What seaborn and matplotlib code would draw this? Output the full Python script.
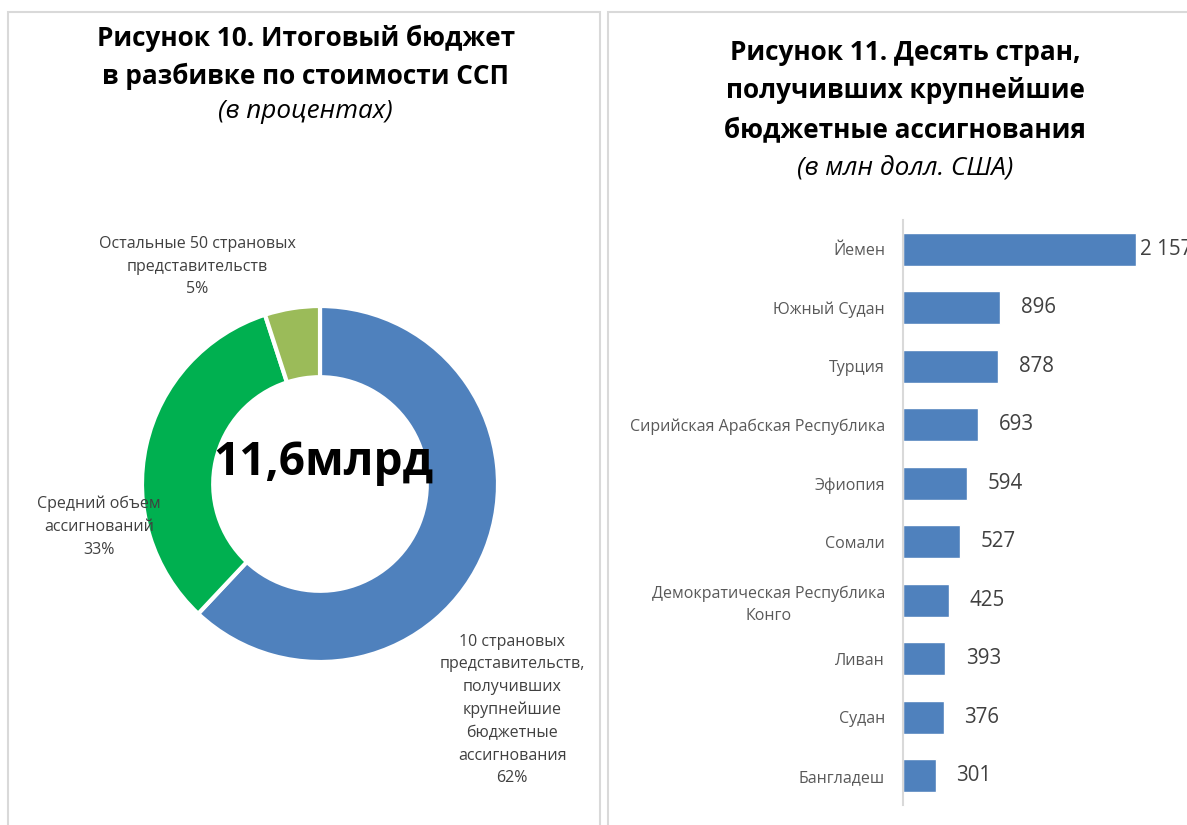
import matplotlib
matplotlib.use("Agg")
import matplotlib.pyplot as plt
import seaborn as sns
from matplotlib.patches import Rectangle

# ---- data ----
donut_labels = [
    "10 страновых\nпредставительств,\nполучивших\nкрупнейшие\nбюджетные\nассигнования",
    "Средний объем\nассигнований",
    "Остальные 50 страновых\nпредставительств",
]
donut_values = [62, 33, 5]
donut_colors = ["#4F81BD", "#00B050", "#9BBB59"]
donut_total = "11,6млрд"

countries = ["Йемен", "Южный Судан", "Турция", "Сирийская Арабская Республика",
             "Эфиопия", "Сомали", "Демократическая Республика\nКонго", "Ливан",
             "Судан", "Бангладеш"]
budgets = [2157, 896, 878, 693, 594, 527, 425, 393, 376, 301]

title_left = ["Рисунок 10. Итоговый бюджет", "в разбивке по стоимости ССП"]
subtitle_left = "(в процентах)"
title_right = ["Рисунок 11. Десять стран,", "получивших крупнейшие",
               "бюджетные ассигнования"]
subtitle_right = "(в млн долл. США)"

sns.set_theme(style="white")
plt.rcParams["font.family"] = ["Open Sans", "DejaVu Sans"]

W, H = 1187, 825
fig = plt.figure(figsize=(W / 100, H / 100), dpi=100)

def fx(px):
    return px / W

def fy(py):
    return 1 - py / H

# panel frames
fig.add_artist(Rectangle((fx(8), fy(860)), fx(600 - 8), (860 - 12) / H,
                         transform=fig.transFigure, fill=False,
                         edgecolor="#d9d9d9", lw=1.5))
fig.add_artist(Rectangle((fx(608), fy(860)), fx(1250 - 608), (860 - 12) / H,
                         transform=fig.transFigure, fill=False,
                         edgecolor="#d9d9d9", lw=1.5))

# titles
TFS = 18.8
for line, y in zip(title_left, [38, 76]):
    fig.text(fx(306), fy(y), line, ha="center", va="center",
             fontsize=TFS, fontweight="bold", color="black")
fig.text(fx(305), fy(112), subtitle_left, ha="center", va="center",
         fontsize=TFS, fontstyle="italic", color="black")
for line, y in zip(title_right, [52, 91, 130]):
    fig.text(fx(905), fy(y), line, ha="center", va="center",
             fontsize=TFS, fontweight="bold", color="black")
fig.text(fx(905), fy(168), subtitle_right, ha="center", va="center",
         fontsize=TFS, fontstyle="italic", color="black")

# ---- donut ----
cx, cy, r = 320, 484, 178
ax1 = fig.add_axes([fx(cx - r), fy(cy + r), (2 * r) / W, (2 * r) / H])
ax1.pie(donut_values, colors=donut_colors, startangle=90, counterclock=False,
        radius=1.0, wedgeprops=dict(width=0.4, edgecolor="white", linewidth=3))
ax1.set_xlim(-1, 1)
ax1.set_ylim(-1, 1)
ax1.set_aspect("equal")
ax1.axis("off")
ax1.text(0.02, 0.12, donut_total, ha="center", va="center", fontsize=33,
         fontweight="bold", color="black")
label_pos = [(1.08, -1.27), (-1.24, -0.24), (-0.69, 1.22)]
for lab, val, (lx, ly) in zip(donut_labels, donut_values, label_pos):
    ax1.text(lx, ly, f"{lab}\n{val}%", ha="center", va="center", fontsize=11.5,
             color="#404040", linespacing=1.55, clip_on=False,
             multialignment="center")

# ---- bars ----
ax2 = fig.add_axes([fx(903), fy(805), fx(1175 - 903), 585 / H])
sns.barplot(x=budgets, y=countries, color="#4F81BD", width=0.57, ax=ax2,
            saturation=1)
ax2.set_xlim(0, 2518)
ax2.set_xticks([])
ax2.set_xlabel("")
ax2.set_ylabel("")
for s in ["top", "right", "bottom"]:
    ax2.spines[s].set_visible(False)
ax2.spines["left"].set_color("#d9d9d9")
ax2.spines["left"].set_linewidth(1.5)
ax2.tick_params(axis="y", length=0, pad=13, labelsize=11.5, labelcolor="#595959")
for t in ax2.get_yticklabels():
    t.set_multialignment("center")
    t.set_linespacing(1.45)
for i, (v, bar) in enumerate(zip(budgets, ax2.patches)):
    off = 3 if i == 0 else 15
    txt = f"{v:,}".replace(",", " ")
    ax2.annotate(txt, (bar.get_width(), bar.get_y() + bar.get_height() / 2),
                 xytext=(off, 0), textcoords="offset points", ha="left",
                 va="center", fontsize=14.8, color="#404040",
                 annotation_clip=False)

fig.savefig("out.png", dpi=100)
